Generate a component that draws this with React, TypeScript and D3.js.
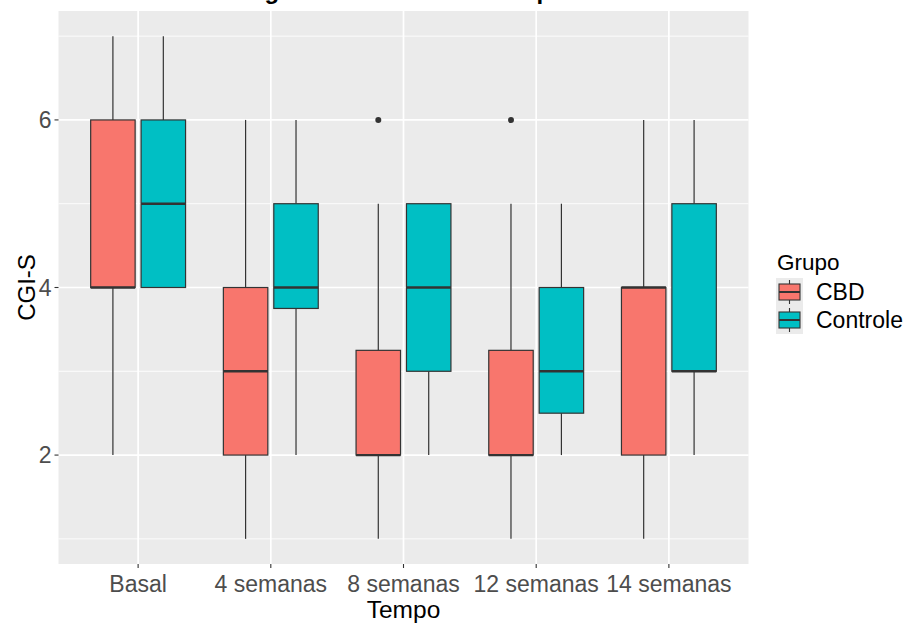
import React from "react";
import * as d3 from "d3";

const categories = ["Basal", "4 semanas", "8 semanas", "12 semanas", "14 semanas"];
const groups = ["CBD", "Controle"];
const groupColors = ["#F8766D", "#00BFC4"];
// [whiskerLow, q1, median, q3, whiskerHigh] per category
const cbdStats = [
  [2, 4, 4, 6, 7],
  [1, 2, 3, 4, 6],
  [1, 2, 2, 3.25, 5],
  [1, 2, 2, 3.25, 5],
  [1, 2, 4, 4, 6],
];
const controleStats = [
  [4, 4, 5, 6, 7],
  [2, 3.75, 4, 5, 6],
  [2, 3, 4, 5, 5],
  [2, 2.5, 3, 4, 5],
  [2, 3, 3, 5, 6],
];
const cbdOutliers = [[], [], [6], [6], []];
const controleOutliers = [[], [], [], [], []];
const yMajorTicks = [2, 4, 6];
const yMinorTicks = [1, 3, 5, 7];
const titleText = "Escore de gravidade CGI-S no tempo";
const xTitle = "Tempo";
const yTitle = "CGI-S";
const legendTitle = "Grupo";

const W = 905;
const H = 623;
const panel = { left: 58.5, right: 748.5, top: 11, bottom: 564 };
const FONT = "'Liberation Sans', Arial, sans-serif";

export default function App() {
  const x = d3.scalePoint<string>().domain(categories).range([panel.left, panel.right]).padding(0.6);
  const y = d3.scaleLinear().domain([0.7, 7.3]).range([panel.bottom, panel.top]);
  const step = x.step();
  const boxW = 0.335 * step;
  const offset = 0.19 * step;
  const series = [
    { stats: cbdStats, outliers: cbdOutliers, color: groupColors[0], dx: -offset },
    { stats: controleStats, outliers: controleOutliers, color: groupColors[1], dx: offset },
  ];
  const lineCol = "#333333";

  return (
    <svg width={W} height={H} style={{ position: "absolute", left: 0, top: 0, fontFamily: FONT }}>
      <rect x={0} y={0} width={W} height={H} fill="#ffffff" />
      <text x={143} y={-1} fontSize={24} fontWeight="bold" fill="#000">{titleText}</text>
      <rect x={panel.left} y={panel.top} width={panel.right - panel.left} height={panel.bottom - panel.top} fill="#EBEBEB" />
      {yMinorTicks.map((t) => (
        <line key={"mn" + t} x1={panel.left} x2={panel.right} y1={y(t)} y2={y(t)} stroke="#fff" strokeWidth={0.9} />
      ))}
      {yMajorTicks.map((t) => (
        <line key={"mj" + t} x1={panel.left} x2={panel.right} y1={y(t)} y2={y(t)} stroke="#fff" strokeWidth={1.7} />
      ))}
      {categories.map((c) => (
        <line key={"v" + c} x1={x(c)} x2={x(c)} y1={panel.top} y2={panel.bottom} stroke="#fff" strokeWidth={1.7} />
      ))}
      {series.map((s, si) =>
        categories.map((c, ci) => {
          const [lo, q1, med, q3, hi] = s.stats[ci];
          const cx = (x(c) as number) + s.dx;
          return (
            <g key={si + "-" + ci}>
              <line x1={cx} x2={cx} y1={y(hi)} y2={y(q3)} stroke={lineCol} strokeWidth={1.2} />
              <line x1={cx} x2={cx} y1={y(q1)} y2={y(lo)} stroke={lineCol} strokeWidth={1.2} />
              <rect x={cx - boxW / 2} y={y(q3)} width={boxW} height={y(q1) - y(q3)} fill={s.color} stroke={lineCol} strokeWidth={1.2} />
              <line x1={cx - boxW / 2} x2={cx + boxW / 2} y1={y(med)} y2={y(med)} stroke={lineCol} strokeWidth={2.4} />
              {s.outliers[ci].map((o, oi) => (
                <circle key={oi} cx={cx} cy={y(o)} r={3} fill={lineCol} />
              ))}
            </g>
          );
        })
      )}
      {/* y axis */}
      {yMajorTicks.map((t) => (
        <g key={"yt" + t}>
          <line x1={panel.left - 4} x2={panel.left} y1={y(t)} y2={y(t)} stroke="#333" strokeWidth={1.1} />
          <text x={panel.left - 7} y={y(t)} dy="0.36em" textAnchor="end" fontSize={23} fill="#4D4D4D">{t}</text>
        </g>
      ))}
      {/* x axis */}
      {categories.map((c) => (
        <g key={"xt" + c}>
          <line x1={x(c)} x2={x(c)} y1={panel.bottom} y2={panel.bottom + 4} stroke="#333" strokeWidth={1.1} />
          <text x={x(c)} y={panel.bottom + 28} textAnchor="middle" fontSize={23} fill="#4D4D4D">{c}</text>
        </g>
      ))}
      <text x={(panel.left + panel.right) / 2} y={618} textAnchor="middle" fontSize={24.5} fill="#000">{xTitle}</text>
      <text transform={`translate(35,${(panel.top + panel.bottom) / 2}) rotate(-90)`} textAnchor="middle" fontSize={24} fill="#000">{yTitle}</text>
      {/* legend */}
      <text x={777} y={270} fontSize={22.5} fill="#000">{legendTitle}</text>
      {groups.map((g, i) => {
        const ky = 278 + i * 28;
        const kx = 776;
        const kw = 27;
        const kh = 28;
        const cx = kx + kw / 2;
        return (
          <g key={"lg" + g}>
            <rect x={kx} y={ky} width={kw} height={kh} fill="#EBEBEB" />
            <line x1={cx} x2={cx} y1={ky + 2} y2={ky + kh - 2} stroke={lineCol} strokeWidth={1.1} />
            <rect x={kx + 3} y={ky + 6} width={kw - 6} height={kh - 12} fill={groupColors[i]} stroke={lineCol} strokeWidth={1.1} />
            <line x1={kx + 3} x2={kx + kw - 3} y1={ky + kh / 2} y2={ky + kh / 2} stroke={lineCol} strokeWidth={2} />
            <text x={816} y={ky + kh / 2} dy="0.36em" fontSize={23} fill="#000">{g}</text>
          </g>
        );
      })}
    </svg>
  );
}
